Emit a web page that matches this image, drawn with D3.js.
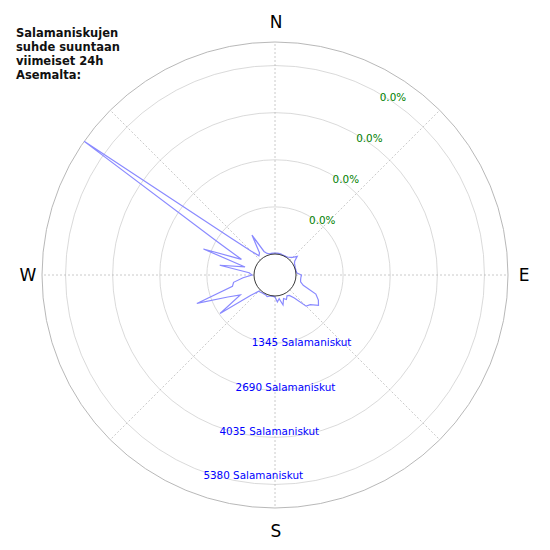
<!DOCTYPE html>
<html>
<head>
<meta charset="utf-8">
<script src="https://cdn.jsdelivr.net/npm/d3@7"></script>
<style>
  body { margin: 0; background: #fff; }
  text { font-family: "DejaVu Sans", sans-serif; }
</style>
</head>
<body>
<div class="container"></div>
<script>
// compass bearings of the bins (degrees, clockwise from north)
var bearings = [
  0, 5, 10, 15, 20, 25, 30, 35, 40, 45, 50, 55,
  60, 65, 70, 75, 80, 85, 90, 95, 100, 105, 110, 115,
  120, 125, 130, 135, 140, 145, 150, 155, 160, 165, 170, 175,
  180, 185, 190, 195, 200, 205, 210, 215, 220, 225, 230, 235,
  240, 245, 250, 255, 260, 265, 270, 275, 280, 285, 290, 295,
  300, 305, 310, 315, 320, 325, 330, 335, 340, 345, 350, 355
];

// lightning strikes per bin
var strikes = [
  29, 29, 29, 29, 14, 14, 14, 29, 57, 114, 229, 86,
  43, 29, 14, 14, 14, 29, 157, 143, 143, 157, 258, 687,
  830, 916, 715, 658, 258, 114, 86, 172, 114, 286, 86, 172,
  29, 14, 14, 29, 57, 29, 29, 29, 43, 57, 315, 1316,
  544, 887, 1774, 658, 601, 315, 57, 143, 1002, 286, 1574, 458,
  1288, 6052, 1059, 372, 114, 172, 715, 143, 57, 29, 29, 29
];

var ringTicks = [1345, 2690, 4035, 5380];
var ringLabels = ['1345 Salamaniskut', '2690 Salamaniskut', '4035 Salamaniskut', '5380 Salamaniskut'];
var pctLabels = ['0.0%', '0.0%', '0.0%', '0.0%'];
var compass = [
  { label: 'N', angle: 0, dist: 253 },
  { label: 'E', angle: 90, dist: 248 },
  { label: 'S', angle: 180, dist: 256 },
  { label: 'W', angle: 270, dist: 248 }
];
var titleLines = ['Salamaniskujen', 'suhde suuntaan', 'viimeiset 24h', 'Asemalta:'];

var width = 550,
  height = 550,
  cx = 275,
  cy = 275,
  holeRadius = 21,
  outerRadius = 233,
  radians = Math.PI / 180;

var rScale = d3.scaleLinear()
  .domain([0, d3.max(strikes)])
  .range([holeRadius, outerRadius]);

var svg = d3.select('.container').append('svg')
  .attr('width', width)
  .attr('height', height);

var face = svg.append('g')
  .attr('transform', 'translate(' + cx + ',' + cy + ')');

// ring grid
face.selectAll('.ring')
  .data(ringTicks).enter()
  .append('circle')
  .attr('class', 'ring')
  .attr('r', function(d) { return rScale(d); })
  .attr('fill', 'none')
  .attr('stroke', '#d0d0d0')
  .attr('stroke-width', 0.8);

face.append('circle')
  .attr('r', outerRadius)
  .attr('fill', 'none')
  .attr('stroke', '#b0b0b0')
  .attr('stroke-width', 0.9);

// spokes every 45 degrees
face.selectAll('.spoke')
  .data(d3.range(0, 360, 45)).enter()
  .append('line')
  .attr('class', 'spoke')
  .attr('x1', function(d) { return d3.pointRadial(d * radians, holeRadius)[0]; })
  .attr('y1', function(d) { return d3.pointRadial(d * radians, holeRadius)[1]; })
  .attr('x2', function(d) { return d3.pointRadial(d * radians, outerRadius)[0]; })
  .attr('y2', function(d) { return d3.pointRadial(d * radians, outerRadius)[1]; })
  .attr('stroke', '#bdbdbd')
  .attr('stroke-width', 0.8)
  .attr('stroke-dasharray', '2,2');

// strike polygon
var line = d3.lineRadial()
  .angle(function(d, i) { return bearings[i] * radians; })
  .radius(function(d) { return rScale(d); })
  .curve(d3.curveLinearClosed);

face.append('path')
  .datum(strikes)
  .attr('d', line)
  .attr('fill', 'none')
  .attr('stroke', '#8a8aff')
  .attr('stroke-width', 1.2)
  .attr('stroke-linejoin', 'miter');

// inner hole
face.append('circle')
  .attr('r', holeRadius)
  .attr('fill', 'none')
  .attr('stroke', '#222')
  .attr('stroke-width', 0.9);

// radial count labels
face.selectAll('.count-label')
  .data(ringTicks).enter()
  .append('text')
  .attr('class', 'count-label')
  .attr('x', function(d) { return d3.pointRadial(200 * radians, rScale(d))[0]; })
  .attr('y', function(d) { return d3.pointRadial(200 * radians, rScale(d))[1]; })
  .attr('dy', '0.72em')
  .attr('text-anchor', 'start')
  .attr('font-size', 10.4)
  .attr('fill', '#0000ff')
  .text(function(d, i) { return ringLabels[i]; });

// percentage labels
face.selectAll('.pct-label')
  .data(ringTicks).enter()
  .append('text')
  .attr('class', 'pct-label')
  .attr('x', function(d) { return d3.pointRadial(30 * radians, rScale(d))[0]; })
  .attr('y', function(d) { return d3.pointRadial(30 * radians, rScale(d))[1]; })
  .attr('dy', '0.72em')
  .attr('text-anchor', 'start')
  .attr('font-size', 10.4)
  .attr('fill', '#008000')
  .text(function(d, i) { return pctLabels[i]; });

// compass letters
face.selectAll('.compass')
  .data(compass).enter()
  .append('text')
  .attr('class', 'compass')
  .attr('x', function(d) { return d3.pointRadial(d.angle * radians, d.dist)[0] + 1; })
  .attr('y', function(d) { return d3.pointRadial(d.angle * radians, d.dist)[1]; })
  .attr('dy', '0.35em')
  .attr('text-anchor', 'middle')
  .attr('font-size', 17)
  .attr('fill', '#000')
  .text(function(d) { return d.label; });

// title
svg.append('text')
  .attr('x', 16)
  .attr('y', 37)
  .attr('font-size', 11.5)
  .attr('font-weight', 'bold')
  .attr('fill', '#111')
  .selectAll('tspan')
  .data(titleLines).enter()
  .append('tspan')
  .attr('x', 16)
  .attr('dy', function(d, i) { return i === 0 ? 0 : 14; })
  .text(function(d) { return d; });
</script>
</body>
</html>
